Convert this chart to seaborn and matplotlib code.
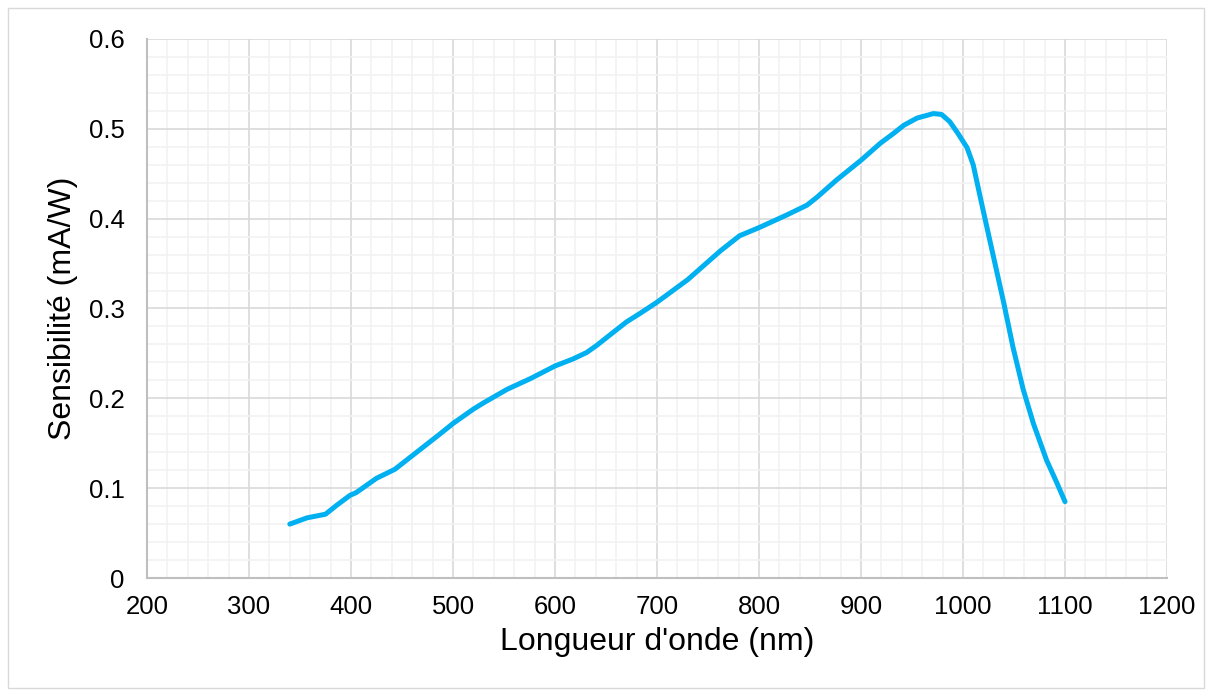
import matplotlib
matplotlib.use("Agg")
import matplotlib.pyplot as plt
import seaborn as sns
import pandas as pd
from matplotlib.ticker import MultipleLocator, FuncFormatter
from matplotlib.patches import Rectangle

wavelength = [340, 357, 375, 386, 399, 405, 425, 443, 470, 488, 500, 520, 530, 553,
              576, 600, 618, 631, 641, 651, 670, 684, 700, 730, 762, 781, 800, 827,
              847, 857, 866, 876, 900, 919, 932, 942, 955, 971, 979, 987, 995, 1004,
              1010, 1020, 1030, 1040, 1049, 1059, 1069, 1082, 1092, 1100]
sensitivity = [0.060, 0.067, 0.071, 0.081, 0.092, 0.095, 0.111, 0.121, 0.145, 0.161,
               0.172, 0.188, 0.195, 0.210, 0.222, 0.236, 0.244, 0.251, 0.259, 0.268,
               0.285, 0.295, 0.307, 0.332, 0.364, 0.381, 0.390, 0.404, 0.415, 0.424,
               0.433, 0.443, 0.465, 0.484, 0.495, 0.504, 0.512, 0.517, 0.516, 0.508,
               0.495, 0.479, 0.460, 0.408, 0.357, 0.306, 0.257, 0.210, 0.172, 0.131,
               0.106, 0.085]
x_label = "Longueur d'onde (nm)"
y_label = "Sensibilité (mA/W)"

df = pd.DataFrame({"x": wavelength, "y": sensitivity})

sns.set_theme(style="white")
plt.rcParams['font.family'] = ['Liberation Sans', 'DejaVu Sans']

fig = plt.figure(figsize=(12.12, 6.96), dpi=100)
ax = fig.add_axes([147/1212, 1-578/696, (1167-147)/1212, (578-39)/696])

sns.lineplot(data=df, x="x", y="y", ax=ax, color="#00B0F0", linewidth=3.6,
             sort=False, solid_capstyle="round", solid_joinstyle="round", zorder=5)

ax.set_xlim(200, 1200)
ax.set_ylim(0, 0.6)
ax.xaxis.set_major_locator(MultipleLocator(100))
ax.xaxis.set_minor_locator(MultipleLocator(20))
ax.yaxis.set_major_locator(MultipleLocator(0.1))
ax.yaxis.set_minor_locator(MultipleLocator(0.02))
ax.yaxis.set_major_formatter(FuncFormatter(lambda v, p: "0" if abs(v) < 1e-9 else f"{v:.1f}"))
ax.xaxis.set_major_formatter(FuncFormatter(lambda v, p: f"{v:.0f}"))

ax.grid(which="minor", color="#F2F2F2", linewidth=1.2, zorder=0)
ax.grid(which="major", color="#D9D9D9", linewidth=1.2, zorder=1)
ax.set_axisbelow(True)

for s in ["top", "right"]:
    ax.spines[s].set_visible(False)
for s in ["left", "bottom"]:
    ax.spines[s].set_color("#BFBFBF")
    ax.spines[s].set_linewidth(1.5)

ax.tick_params(axis="both", which="both", length=0, labelsize=18.5, colors="black")
ax.tick_params(axis="y", pad=16)
ax.tick_params(axis="x", pad=12)

ax.set_xlabel(x_label, fontsize=23, labelpad=6, color="black")
ax.set_ylabel(y_label, fontsize=23, labelpad=8, color="black")

fig.patches.append(Rectangle((8/1212, 8/696), 1196/1212, 680/696, transform=fig.transFigure,
                             fill=False, edgecolor="#D9D9D9", linewidth=1.0))

fig.savefig("out.png", dpi=100)
